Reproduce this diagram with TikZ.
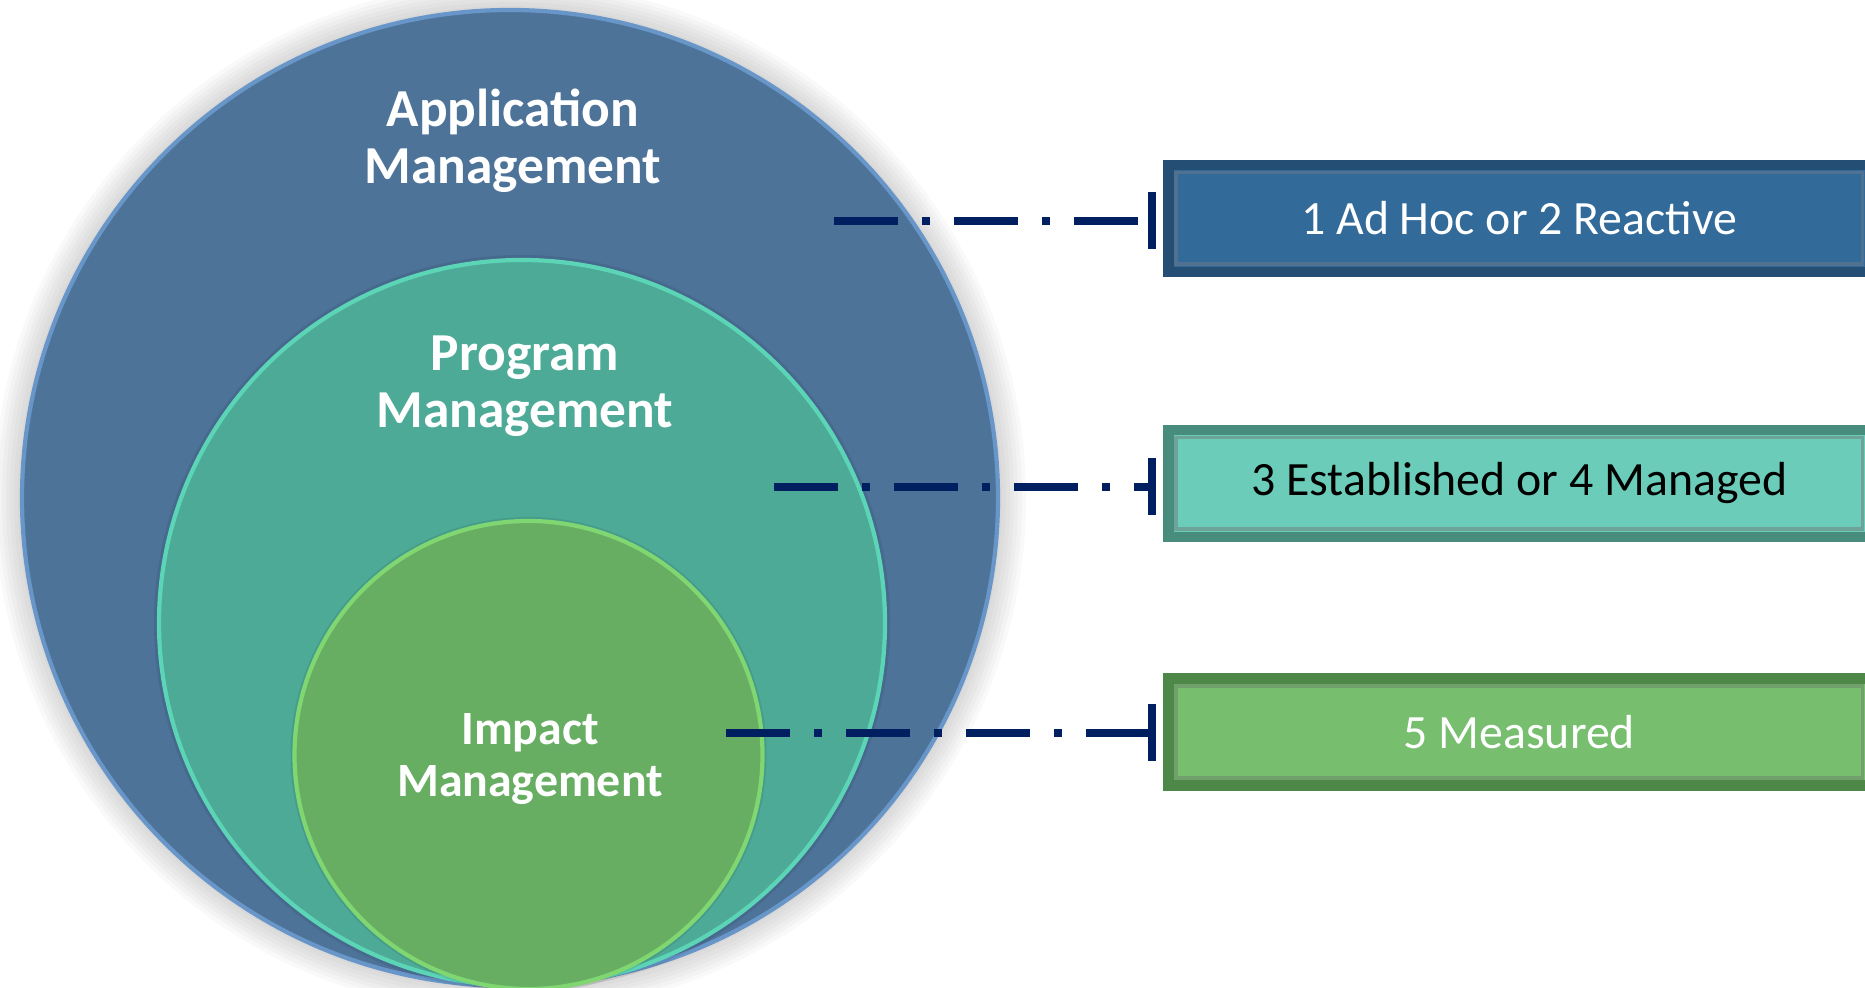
\documentclass[tikz,border=0pt]{standalone}
\usepackage{fontspec}
\setmainfont{Carlito}
\usepackage{tikz}
\usetikzlibrary{arrows.meta}

\definecolor{appblue}{RGB}{77,115,153}
\definecolor{apprim}{RGB}{104,150,200}
\definecolor{progteal}{RGB}{77,170,151}
\definecolor{progrim}{RGB}{92,212,182}
\definecolor{impgreen}{RGB}{103,174,99}
\definecolor{imprim}{RGB}{128,214,112}
\definecolor{boxblue}{RGB}{50,106,154}
\definecolor{boxbluedark}{RGB}{36,78,116}
\definecolor{boxteal}{RGB}{107,205,185}
\definecolor{boxtealdark}{RGB}{72,140,126}
\definecolor{boxgreen}{RGB}{119,191,111}
\definecolor{boxgreendark}{RGB}{78,136,72}
\definecolor{navy}{RGB}{0,31,96}

\begin{document}
\begin{tikzpicture}[x=1cm, y=1cm,
ring/.style={circle, inner sep=0pt, line width=1.2pt},
ringlabel/.style={text=white, align=center, font=\bfseries\fontsize{15.2}{16.2}\selectfont},
levelbox/.style={rectangle, anchor=west, minimum width=7.02cm, minimum height=1.07cm,
  line width=3pt, inner sep=0pt, font=\fontsize{13.6}{16}\selectfont},
link/.style={navy, line width=0.08cm, shorten >=0.07cm,
  dash pattern=on 0.64cm off 0.24cm on 0.08cm off 0.24cm, -{Bar[width=0.57cm]}}]
\useasboundingbox (0,0) rectangle (18.65,9.88);
% soft glow round the rings
\foreach \d in {0.04,0.08,...,0.32}
  \fill[black, opacity=0.025] (5.10,4.90) circle ({4.88+\d});
\node[ring, fill=appblue, draw=apprim, minimum size=9.76cm] (app) at (5.10,4.90) {};
\fill[black, opacity=0.08] (5.22,3.65) circle (3.68);
\node[ring, fill=progteal, draw=progrim, minimum size=7.26cm] (prog) at (5.22,3.65) {};
\fill[black, opacity=0.08] (5.285,2.33) circle (2.38);
\node[ring, fill=impgreen, draw=imprim, minimum size=4.68cm] (imp) at (5.285,2.33) {};
% ring labels
\node[ringlabel] (applabel) at (5.13,8.47) {Application\\Management};
\node[ringlabel] (proglabel) at (5.25,6.02) {Program\\Management};
\node[ringlabel, font=\bfseries\fontsize{13.6}{14.8}\selectfont] (implabel) at (5.30,2.29) {Impact\\Management};
% level boxes
\node[levelbox, fill=boxblue, draw=boxbluedark, text=white] (adhoc) at (11.63,7.695) {1 Ad Hoc or 2 Reactive};
\node[levelbox, fill=boxteal, draw=boxtealdark, text=black] (estab) at (11.63,5.045) {3 Established or 4 Managed};
\node[levelbox, fill=boxgreen, draw=boxgreendark, text=white] (meas) at (11.63,2.56) {5 Measured};
\foreach \b/\c in {adhoc/boxbluedark, estab/boxtealdark, meas/boxgreendark}
  \draw[\c!80, line width=1pt] ([shift={(0.13,-0.13)}]\b.north west) rectangle ([shift={(-0.13,0.13)}]\b.south east);
% connectors
\coordinate (appstart) at (8.34,7.67);
\coordinate (progstart) at (7.74,5.01);
\coordinate (impstart) at (7.26,2.55);
\draw[link] (appstart) -- (appstart -| adhoc.west);
\draw[link] (progstart) -- (progstart -| estab.west);
\draw[link] (impstart) -- (impstart -| meas.west);
\end{tikzpicture}
\end{document}
